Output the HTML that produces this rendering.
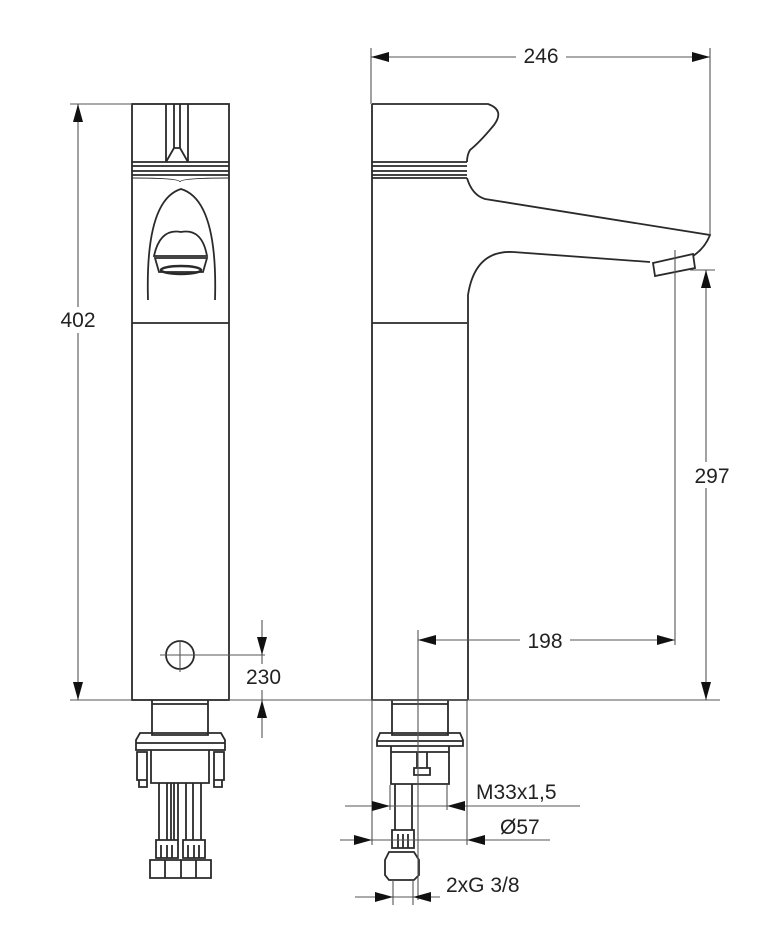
<!DOCTYPE html>
<html><head><style>
html,body{margin:0;padding:0;background:#fff;}
svg{display:block;}
text{font-family:"Liberation Sans",Arial,sans-serif;font-size:21px;fill:#222;}
</style></head><body>
<svg width="761" height="950" viewBox="0 0 761 950" xmlns="http://www.w3.org/2000/svg">
<g fill="none" stroke="#2a2a2a" stroke-width="1.8">
<rect x="132" y="104" width="97" height="596"/>
<path d="M166 104V162M174 104V148L166 162M188 104V162M180 104V148L188 162M174 148H180"/>
<path d="M132 162H229M132 166H229M132 171H229M132 175H229"/>
<path d="M132 178Q180 178 180 182Q180 178 229 178" stroke-width="1"/>
<path d="M132 323H229"/>
<path d="M148 300Q145 200 181 189Q218 200 215 300"/>
<path d="M154 256Q160 228 181 232Q202 228 207 256Z"/>
<path d="M155 258H207L203 272H159Z"/>
<ellipse cx="181" cy="270" rx="20" ry="4" stroke-width="2.5"/>
<circle cx="180" cy="655" r="14"/>
<path d="M152 700V735H208V700M152 704H208"/>
<path d="M140 733H221L225 740V750H136V740ZM136 743H225"/>
<path d="M151 750V783H209V750"/>
<path d="M137 752H147V780H137ZM139 780H147V787H139ZM214 752H224V780H214ZM214 780H222V787H214Z"/>
<path d="M159 783V840M167 783V840M174 783V840M178 783V840M186 783V840M193 783V840M201 783V840M171 783V840"/>
<path d="M156 840H178V858H156ZM183 840H205V858H183ZM161 845V858M167 845V858M172 845V858M188 845V858M194 845V858M199 845V858"/>
<path d="M150 860H211V878H150ZM165 860V878M181 860V878M196 860V878"/>
<path d="M372 104H488Q505 110 494 125Q480 142 470 150Q467 155 467 162"/>
<path d="M372 162H467M372 166H467M372 171H467M372 175H467M372 178H467"/>
<path d="M467 178Q472 195 485 199L710 235Q705 248 693 256"/>
<path d="M650 262L513 252Q475 250 468 295V700"/>
<path d="M653 263L693 254L695 268L655 276Z"/>
<path d="M372 104V700H468M372 323H467"/>
<path d="M392 700V735H448V700M392 704H448"/>
<path d="M380 733H460L463 740V746H377V740ZM377 741H463"/>
<path d="M391 746V784H449V746M391 752H449"/>
<path d="M417 752V768H427V752M414 768H430V775H414Z"/>
<path d="M395 784V830M412 784V830M392 830H414V848H392ZM398 834V848M403 834V848M408 834V848"/>
<path d="M385 860L389 852H414L419 860V875L414 880H389L385 875Z"/>
</g>
<g fill="none" stroke="#555" stroke-width="1.1">
<path d="M70 104H132M78 104V700M70 700H132"/>
<path d="M229 700H720"/>
<path d="M160 655H265M180 640V672M262 620V700M262 700V738"/>
<path d="M371 48V104M710 48V235M371 57H710"/>
<path d="M690 270H715M706 270V700"/>
<path d="M675 250V645M418 630V900M418 640H675"/>
<path d="M372 700V845M467 700V845M390 785V810M447 785V810"/>
<path d="M345 806H580M340 840H550"/>
<path d="M393 880V905M413 880V905M355 897H440"/>
</g>
<g fill="#111">
<path d="M78 104L73 122H83Z"/><path d="M78 700L73 682H83Z"/>
<path d="M262 655L257 637H267Z"/><path d="M262 700L257 718H267Z"/>
<path d="M371 57L389 52V62Z"/><path d="M710 57L692 52V62Z"/>
<path d="M706 270L701 288H711Z"/><path d="M706 700L701 682H711Z"/>
<path d="M418 640L436 635V645Z"/><path d="M675 640L657 635V645Z"/>
<path d="M390 806L372 801V811Z"/><path d="M447 806L465 801V811Z"/>
<path d="M372 840L354 835V845Z"/><path d="M467 840L485 835V845Z"/>
<path d="M393 897L375 892V902Z"/><path d="M413 897L431 892V902Z"/>
</g>
<g>
<rect x="53" y="307" width="50" height="26" fill="#fff"/>
<text x="78" y="327" text-anchor="middle">402</text>
<rect x="244" y="664" width="46" height="26" fill="#fff"/>
<text x="246" y="684">230</text>
<rect x="516" y="43" width="50" height="26" fill="#fff"/>
<text x="541" y="63" text-anchor="middle">246</text>
<rect x="686" y="462" width="50" height="26" fill="#fff"/>
<text x="712" y="483" text-anchor="middle">297</text>
<rect x="520" y="627" width="50" height="26" fill="#fff"/>
<text x="545" y="648" text-anchor="middle">198</text>
<text x="476" y="799">M33x1,5</text>
<text x="500" y="834">Ø57</text>
<text x="446" y="892">2xG 3/8</text>
</g>
</svg>
</body></html>
